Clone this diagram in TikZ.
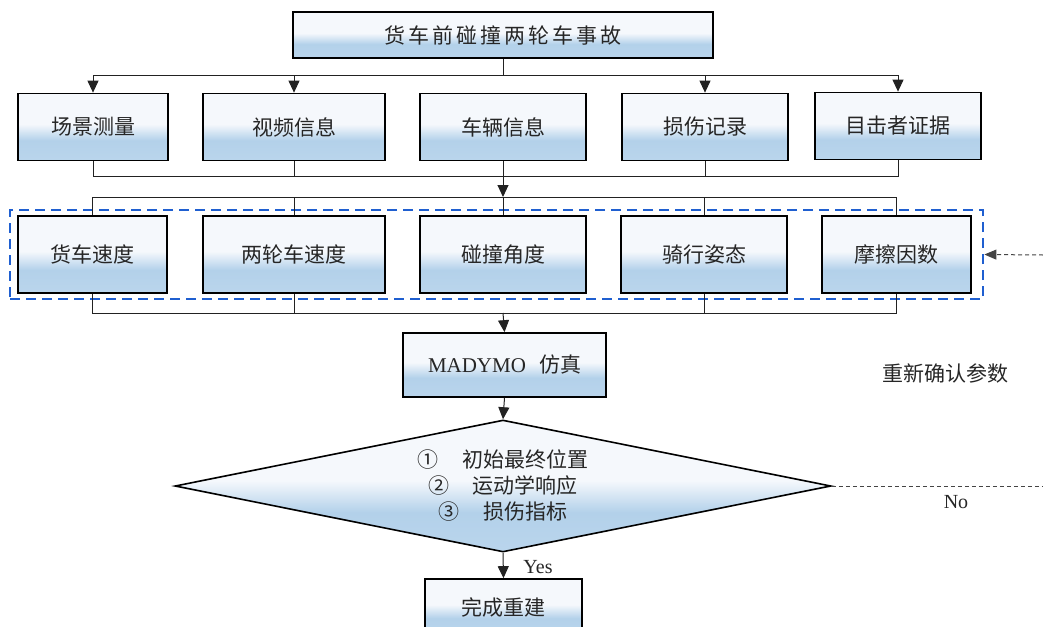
\documentclass[tikz,border=0pt]{standalone}
\usepackage{fontspec}
\setmainfont{Liberation Serif}
\newfontfamily\cjk{Noto Sans CJK SC}
\newfontfamily\cjkwide[LetterSpace=14]{Noto Sans CJK SC}
\usetikzlibrary{arrows.meta,shapes.geometric}
\definecolor{shBlue}{HTML}{B3D1EA}
\definecolor{shBlueB}{HTML}{BAD5EC}
\definecolor{shWhite}{HTML}{F5F8FC}
\definecolor{grpBlue}{HTML}{1F5FD0}
\definecolor{lineGray}{HTML}{222222}
\definecolor{dashGray}{HTML}{444444}
\pgfdeclareverticalshading{boxshade}{100bp}{color(0bp)=(shBlueB); color(25bp)=(shBlueB); color(40bp)=(shBlue); color(52bp)=(shWhite); color(75bp)=(shWhite); color(100bp)=(shWhite)}
\tikzset{
  box/.style={draw=black, line width=1.7pt, shading=boxshade, inner sep=0pt,
    font=\cjk\fontsize{21}{25}\selectfont, text=black!85},
  dia/.style={draw=black, line width=1.6pt, shading=boxshade, shape=diamond, aspect=5,
    inner sep=0pt, align=center, font=\cjk\fontsize{21}{26}\selectfont, text=black!85},
  conn/.style={draw=lineGray, line width=1pt},
  arr/.style={conn, -{Triangle[width=11pt,length=12pt]}},
  grpbox/.style={draw=grpBlue, line width=2.8pt, dash pattern=on 10pt off 6pt, inner sep=0pt},
  dashline/.style={draw=dashGray, line width=1pt, dash pattern=on 4pt off 3pt},
  dasharr/.style={dashline, -{Triangle[width=10pt,length=12pt]}},
  lbl/.style={inner sep=0pt, text=black!85},
}
\begin{document}
\begin{tikzpicture}[x=1pt,y=-1pt]
\useasboundingbox (0,0) rectangle (1043,626);
\clip (0,0) rectangle (1043,626);
% top
\node[box, minimum width=420pt, minimum height=46pt, font=\cjkwide\fontsize{21}{25}\selectfont] (top) at (503,35) {货车前碰撞两轮车事故};
% row 1
\node[box, minimum width=150pt, minimum height=67pt] (r1a) at (93,127) {场景测量};
\node[box, minimum width=182pt, minimum height=67pt] (r1b) at (294,127) {视频信息};
\node[box, minimum width=166pt, minimum height=67pt] (r1c) at (503,127) {车辆信息};
\node[box, minimum width=166pt, minimum height=67pt] (r1d) at (705,127) {损伤记录};
\node[box, minimum width=166pt, minimum height=67pt] (r1e) at (898,126) {目击者证据};
% group frame
\node[grpbox, minimum width=973pt, minimum height=89pt] (grp) at (496.5,254.5) {};
% row 2
\node[box, minimum width=149pt, minimum height=77pt] (r2a) at (92.5,254.5) {货车速度};
\node[box, minimum width=182pt, minimum height=77pt] (r2b) at (294,254.5) {两轮车速度};
\node[box, minimum width=166pt, minimum height=77pt] (r2c) at (503,254.5) {碰撞角度};
\node[box, minimum width=166pt, minimum height=77pt] (r2d) at (704,254.5) {骑行姿态};
\node[box, minimum width=149pt, minimum height=77pt] (r2e) at (896.5,254.5) {摩擦因数};
% simulation
\node[box, minimum width=203pt, minimum height=64pt] (sim) at (504.5,365) {{\rmfamily MADYMO}\hspace{13pt}仿真};
% decision
\node[dia, minimum width=656pt, minimum height=132pt] (dec) at (503,486)
  {①\hspace{24pt}初始最终位置\\②\hspace{24pt}运动学响应\\③\hspace{24pt}损伤指标};
% final
\node[box, minimum width=157pt, minimum height=56pt] (fin) at (503.5,607) {完成重建};
% labels
\node[lbl, font=\cjk\fontsize{21}{25}\selectfont] (redo) at (945,373) {重新确认参数};
\node[lbl, font=\fontsize{20}{24}\selectfont] (no) at (956,502) {No};
\node[lbl, font=\fontsize{20}{24}\selectfont] (yes) at (538,567) {Yes};
% junction coordinates
\coordinate (j1) at (503,75);
\coordinate (j2) at (503,176);
\coordinate (j3) at (503,197);
\coordinate (j4) at (503,313);
\coordinate (fb) at (1043,255);
\coordinate (nb) at (1043,486);
% top -> row1
\draw[conn] (top.south) -- (j1);
\draw[conn] (r1a.north |- j1) -- (r1e.north |- j1);
\draw[arr] (r1a.north |- j1) -- (r1a.north);
\draw[arr] (r1b.north |- j1) -- (r1b.north);
\draw[arr] (r1d.north |- j1) -- (r1d.north);
\draw[arr] (r1e.north |- j1) -- (r1e.north);
% row1 -> row2
\draw[conn] (r1a.south) -- (r1a.south |- j2) -- (r1e.south |- j2) -- (r1e.south);
\draw[conn] (r1b.south) -- (r1b.south |- j2);
\draw[conn] (r1d.south) -- (r1d.south |- j2);
\draw[arr] (r1c.south) -- (j3);
\draw[conn] (r2a.north) -- (r2a.north |- j3) -- (r2e.north |- j3) -- (r2e.north);
\draw[conn] (r2b.north |- j3) -- (r2b.north);
\draw[conn] (r2d.north |- j3) -- (r2d.north);
\draw[conn] (j3) -- (r2c.north);
% row2 -> sim
\draw[conn] (r2a.south) -- (r2a.south |- j4) -- (r2e.south |- j4) -- (r2e.south);
\draw[conn] (r2b.south) -- (r2b.south |- j4);
\draw[conn] (r2d.south) -- (r2d.south |- j4);
\draw[arr] (j4) -- (sim.north);
% sim -> decision -> final
\draw[arr] (sim.south) -- (dec.north);
\draw[arr] (dec.south) -- (fin.north);
% feedback
\draw[dashline] (dec.east) -- (nb);
\draw[dasharr] (fb) -- (grp.east);
\end{tikzpicture}
\end{document}
